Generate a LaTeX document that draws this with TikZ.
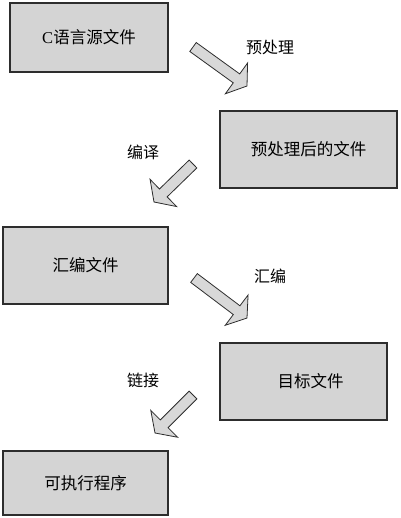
\documentclass[tikz,border=0pt]{standalone}
\usepackage{fontspec}
\setmainfont{Liberation Serif}
\newfontfamily\cjk{Noto Sans CJK SC}
\usetikzlibrary{calc}
\definecolor{boxgray}{RGB}{212,212,212}
\definecolor{arrgray}{RGB}{216,216,216}
\definecolor{edgegray}{RGB}{45,45,45}
\newcommand\blkarrow[2]{%
  \coordinate (#1base) at ($(#2)!13pt!(#1)$);
  \draw[arrowshape]
    ($(#1)!5.5pt!90:(#2)$) -- ($(#1base)!5.5pt!90:(#2)$) --
    ($(#1base)!19pt!90:(#2)$) -- (#2) --
    ($(#1base)!19pt!-90:(#2)$) -- ($(#1base)!5.5pt!-90:(#2)$) --
    ($(#1)!5.5pt!-90:(#2)$) -- cycle;}
\begin{document}
\begin{tikzpicture}[x=1pt,y=-1pt,
  filebox/.style={draw=edgegray, line width=1.1pt, fill=boxgray, inner sep=0pt,
    font=\fontsize{16.5}{19}\selectfont\cjk},
  arrowshape/.style={draw=edgegray, line width=0.8pt, fill=arrgray, line join=miter},
  steplabel/.style={font=\fontsize{16}{19}\selectfont\cjk, inner sep=0pt}]
\useasboundingbox (0,0) rectangle (400,518);
\node[filebox, minimum width=158pt, minimum height=69pt] (src) at (89,37.5) {{\rmfamily C}语言源文件};
\node[filebox, minimum width=177pt, minimum height=77pt] (pre) at (308.5,149.5) {预处理后的文件};
\node[filebox, minimum width=165pt, minimum height=77pt] (asm) at (85.5,265.5) {汇编文件};
\node[filebox, minimum width=167pt, minimum height=77pt] (obj) at (303.5,381.5) {\hspace*{14pt}目标文件};
\node[filebox, minimum width=165pt, minimum height=64pt] (exe) at (85.5,483) {可执行程序};
\coordinate (t1) at (193,47);  \coordinate (p1) at (247,86);
\coordinate (t2) at (193,164); \coordinate (p2) at (154,202);
\coordinate (t3) at (194,278); \coordinate (p3) at (247,318);
\coordinate (t4) at (193,395); \coordinate (p4) at (155,433);
\blkarrow{t1}{p1}
\blkarrow{t2}{p2}
\blkarrow{t3}{p3}
\blkarrow{t4}{p4}
\node[steplabel] (l1) at (270,47) {预处理};
\node[steplabel] (l2) at (143,152) {编译};
\node[steplabel] (l3) at (270,276) {汇编};
\node[steplabel] (l4) at (143,380) {链接};
\end{tikzpicture}
\end{document}
